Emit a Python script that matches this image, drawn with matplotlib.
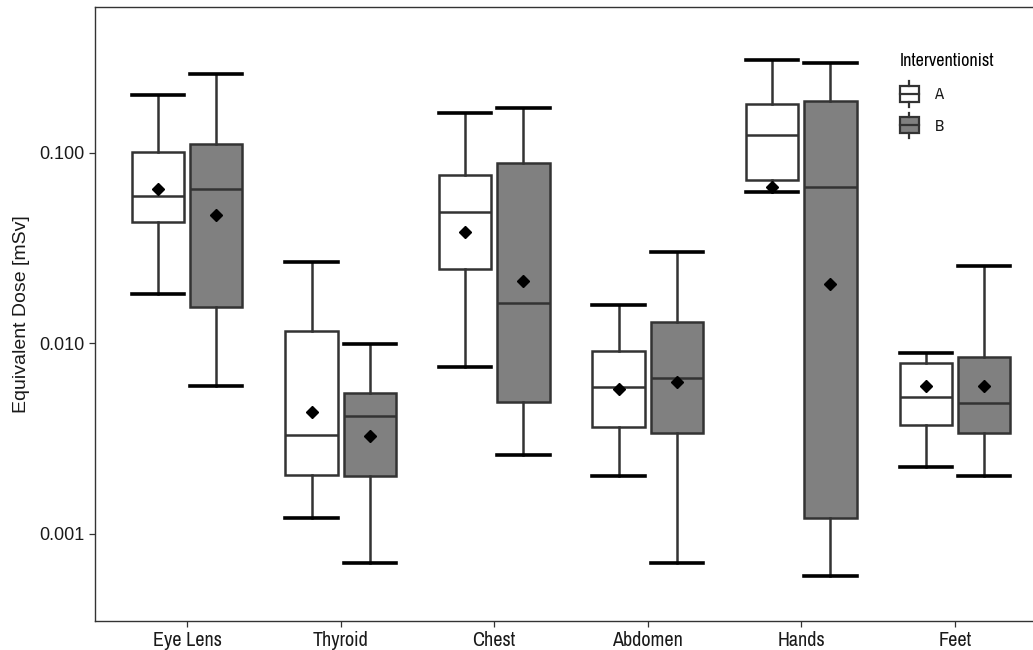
import matplotlib
matplotlib.use("Agg")
import matplotlib.pyplot as plt
from matplotlib.legend_handler import HandlerBase
from matplotlib.lines import Line2D
from matplotlib.patches import Rectangle

# five-number summaries + means per body site, by interventionist
sites = ["Eye Lens", "Thyroid", "Chest", "Abdomen", "Hands", "Feet"]
groups = ["A", "B"]

a_whislo = [0.0182, 0.00121, 0.00753, 0.00201, 0.0624, 0.00225]
a_q1 = [0.0435, 0.00204, 0.0246, 0.00365, 0.0721, 0.00373]
a_med = [0.0594, 0.00331, 0.0490, 0.00592, 0.124, 0.00524]
a_q3 = [0.101, 0.01164, 0.0767, 0.00914, 0.181, 0.0079]
a_whishi = [0.201, 0.0268, 0.162, 0.0159, 0.308, 0.0089]
a_mean = [0.0647, 0.00437, 0.0385, 0.00577, 0.0664, 0.00598]

b_whislo = [0.00598, 0.000705, 0.0026, 0.000705, 0.000603, 0.00201]
b_q1 = [0.01556, 0.00201, 0.00493, 0.00339, 0.00121, 0.00339]
b_med = [0.0647, 0.00416, 0.0163, 0.00659, 0.0664, 0.00488]
b_q3 = [0.1115, 0.0055, 0.0887, 0.01297, 0.1875, 0.00849]
b_whishi = [0.260, 0.00993, 0.172, 0.0302, 0.296, 0.0255]
b_mean = [0.0473, 0.00327, 0.0213, 0.00628, 0.0205, 0.00598]

fills = {"A": "white", "B": "#808080"}
edge = "#333333"
narrow = ["Archivo Narrow", "Liberation Sans", "DejaVu Sans"]
regular = ["Liberation Sans", "DejaVu Sans"]


def make_stats(lo, q1, med, q3, hi, mean):
    return [dict(whislo=w0, q1=b0, med=m, q3=b1, whishi=w1, mean=mu, fliers=[])
            for w0, b0, m, b1, w1, mu in zip(lo, q1, med, q3, hi, mean)]


stats = {
    "A": make_stats(a_whislo, a_q1, a_med, a_q3, a_whishi, a_mean),
    "B": make_stats(b_whislo, b_q1, b_med, b_q3, b_whishi, b_mean),
}

fig = plt.figure(figsize=(10.33, 6.5), dpi=100)
# panel runs past the right edge of the image, so its right border is cut
ax = fig.add_axes([95 / 1033, 1 - 621 / 650, 952 / 1033, 614 / 650])

width = 0.34
offsets = {"A": -0.19, "B": 0.19}
for g in groups:
    pos = [i + 1 + offsets[g] for i in range(len(sites))]
    ax.bxp(stats[g], positions=pos, widths=width, capwidths=width,
           patch_artist=True, showmeans=True, showfliers=False,
           boxprops=dict(facecolor=fills[g], edgecolor=edge, linewidth=1.8),
           medianprops=dict(color=edge, linewidth=1.8),
           whiskerprops=dict(color=edge, linewidth=1.8),
           capprops=dict(color="black", linewidth=2.6),
           meanprops=dict(marker="D", markerfacecolor="black",
                          markeredgecolor="black", markersize=6.5))

ax.set_yscale("log")
ax.set_ylim(10 ** -3.457, 10 ** -0.235)
ax.set_xlim(0.4, 6.6)
ax.set_yticks([0.001, 0.01, 0.1])
ax.set_yticklabels(["0.001", "0.010", "0.100"], family=regular, fontsize=13)
ax.yaxis.set_minor_locator(matplotlib.ticker.NullLocator())
ax.set_xticks(range(1, len(sites) + 1))
ax.set_xticklabels(sites, family=narrow, fontsize=14.5)
ax.tick_params(colors="#333333", length=4, width=0.9)
ax.tick_params(axis="both", labelcolor="#1a1a1a")
ax.set_ylabel("Equivalent Dose [mSv]", family=regular, fontsize=14,
              color="#1a1a1a", labelpad=7)
for s in ax.spines.values():
    s.set_color("#333333")
    s.set_linewidth(1.0)


class BoxKey(HandlerBase):
    def create_artists(self, legend, orig_handle, xdescent, ydescent,
                       width, height, fontsize, trans):
        w = height * 1.2
        x0 = (width - w) / 2 - xdescent
        y0 = -ydescent
        cx = x0 + w / 2
        box = Rectangle((x0, y0), w, height, facecolor=orig_handle,
                        edgecolor=edge, linewidth=1.6, transform=trans)
        mid = Line2D([x0, x0 + w], [y0 + height / 2] * 2, color=edge,
                     linewidth=1.6, transform=trans)
        top = Line2D([cx, cx], [y0 + height, y0 + height * 1.3], color=edge,
                     linewidth=1.6, transform=trans)
        bot = Line2D([cx, cx], [y0, y0 - height * 0.3], color=edge,
                     linewidth=1.6, transform=trans)
        return [box, mid, top, bot]


leg = ax.legend([fills[g] for g in groups], groups,
                handler_map={str: BoxKey()},
                title="Interventionist", loc="upper left",
                bbox_to_anchor=(0.845, 0.925), frameon=False,
                borderpad=0, borderaxespad=0,
                prop=dict(family=narrow, size=12),
                title_fontproperties=dict(family=narrow, size=13),
                handlelength=1.2, handleheight=1.1, labelspacing=0.9,
                handletextpad=0.9, alignment="left")
leg._legend_box.sep = 12
for t in leg.get_texts():
    t.set_color("#1a1a1a")

fig.savefig("out.png", dpi=100, facecolor="white")
